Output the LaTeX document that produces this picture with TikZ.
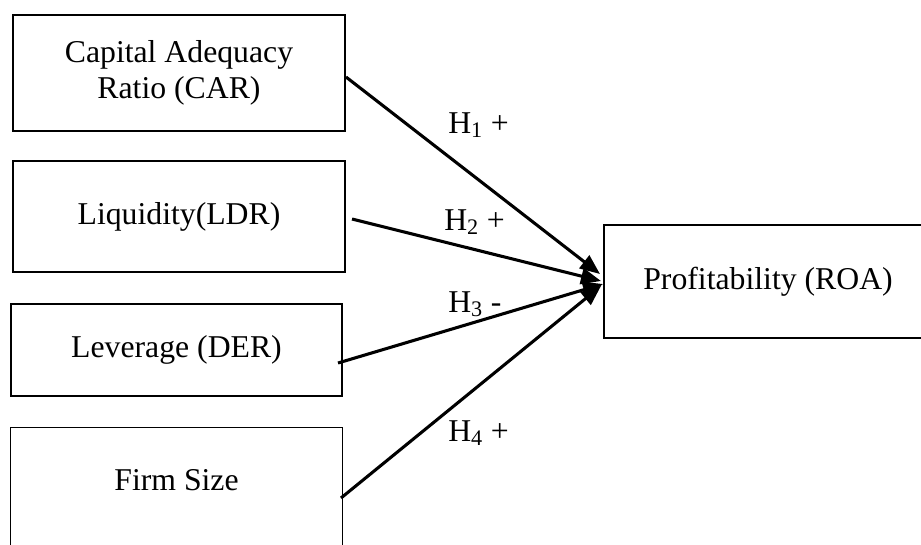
\documentclass[tikz,border=0pt]{standalone}
\usepackage{fontspec}
\setmainfont{Liberation Serif}
\usetikzlibrary{arrows.meta}
\begin{document}
\begin{tikzpicture}[x=0.75pt,y=-0.75pt,
  txt/.style={font=\fontsize{23.8}{27}\selectfont},
  box/.style={txt, draw, line width=1.1pt, align=center, inner sep=0pt},
  lab/.style={txt, anchor=base west, inner sep=0pt},
  link/.style={line width=2.3pt, -{Triangle[length=15pt,width=12pt]}}]
\useasboundingbox (0,0) rectangle (921,544);
\clip (0,0) rectangle (921,544);
% boxes
\node[box, minimum width=249pt, minimum height=87pt] (car) at (179,73) {Capital Adequacy\\Ratio (CAR)};
\node[box, minimum width=249pt, minimum height=83.25pt] (ldr) at (179,216.5) {Liquidity(LDR)};
\node[box, minimum width=248.25pt, minimum height=69pt] (der) at (176.5,350) {Leverage (DER)};
\node[txt, inner sep=0pt, minimum width=248.25pt, minimum height=78pt] (fs) at (176.5,480) {Firm Size};
\draw[line width=1.1pt] (fs.north west) rectangle ([yshift=-40pt]fs.south east);
\node[box, minimum width=246pt, minimum height=84.75pt] (roa) at (768,281.5) {Profitability (ROA)};
% connector end points
\coordinate (s1) at (346,77);
\coordinate (s2) at (352,219);
\coordinate (s3) at (338,363);
\coordinate (s4) at (341,498);
\coordinate (e1) at (600,274);
\coordinate (e2) at (601,281);
\coordinate (e3) at (603,284);
\coordinate (e4) at (601,286);
\draw[link] (s1) -- (e1);
\draw[link] (s2) -- (e2);
\draw[link] (s3) -- (e3);
\draw[link] (s4) -- (e4);
% labels
\node[lab] (h1) at (448,133) {H\textsubscript{1} +};
\node[lab] (h2) at (444,230) {H\textsubscript{2} +};
\node[lab] (h3) at (448,312) {H\textsubscript{3} -};
\node[lab] (h4) at (448,441) {H\textsubscript{4} +};
\end{tikzpicture}
\end{document}
